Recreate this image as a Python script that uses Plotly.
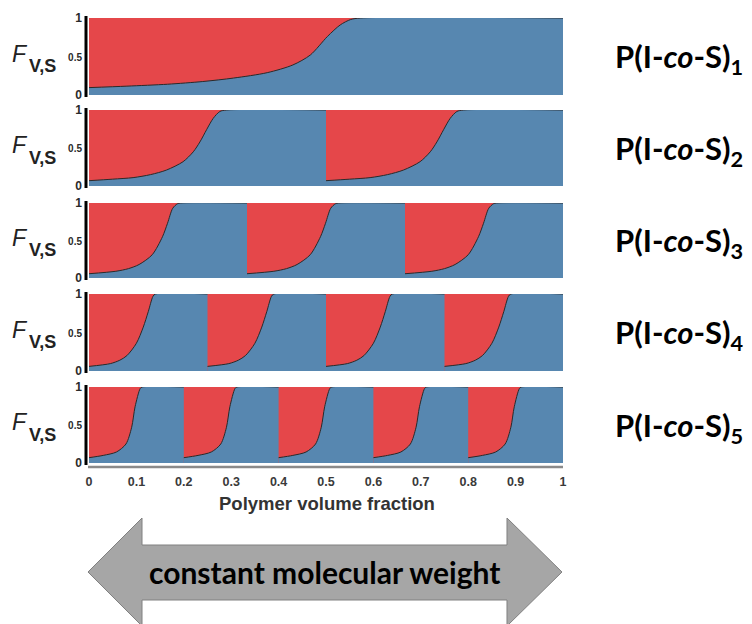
import plotly.graph_objects as go

W, H = 752, 624
RED = "#E5474A"
BLUE = "#5787B0"

block_counts = [1, 2, 3, 4, 5]
labels = ["1", "2", "3", "4", "5"]

# composition profile inside one block: fraction of block width -> F_V,S
frac_1 = [0, 0.08, 0.166, 0.24, 0.305, 0.376, 0.43, 0.467, 0.503, 0.53, 0.552, 0.573, 1.0]
F_1 = [0.096, 0.115, 0.14, 0.175, 0.22, 0.29, 0.39, 0.52, 0.76, 0.91, 0.98, 1.0, 1.0]
frac_2 = [0, 0.1, 0.186, 0.26, 0.327, 0.397, 0.44, 0.468, 0.496, 0.524, 0.552, 0.58, 1.0]
F_2 = [0.07, 0.09, 0.11, 0.15, 0.21, 0.32, 0.45, 0.58, 0.74, 0.89, 0.98, 1.0, 1.0]
frac_3 = [0, 0.17, 0.25, 0.317, 0.40, 0.465, 0.497, 0.53, 0.56, 0.58, 1.0]
F_3 = [0.057, 0.09, 0.125, 0.18, 0.31, 0.55, 0.73, 0.93, 0.99, 1.0, 1.0]
frac_4 = [0, 0.18, 0.26, 0.32, 0.40, 0.458, 0.5, 0.54, 0.56, 1.0]
F_4 = [0.06, 0.096, 0.14, 0.2, 0.36, 0.57, 0.77, 0.97, 1.0, 1.0]
frac_5 = [0, 0.15, 0.29, 0.39, 0.45, 0.486, 0.54, 0.56, 1.0]
F_5 = [0.07, 0.10, 0.145, 0.25, 0.47, 0.74, 0.98, 1.0, 1.0]

fracs = [frac_1, frac_2, frac_3, frac_4, frac_5]
Fs = [F_1, F_2, F_3, F_4, F_5]

x_ticks = [0, 0.1, 0.2, 0.3, 0.4, 0.5, 0.6, 0.7, 0.8, 0.9, 1]
x_ticktext = ["0", "0.1", "0.2", "0.3", "0.4", "0.5", "0.6", "0.7", "0.8", "0.9", "1"]
y_ticks = [0, 0.5, 1]
y_ticktext = ["0", "<span style='font-size:10px'>0.5</span>", "1"]

# panel pixel geometry (top, bottom)
panels = [(18, 95), (110, 186), (203, 278), (294, 371), (387, 463)]
XL, XR = 89, 563


def px(x):
    return x / W


def py(y):
    return 1 - y / H


fig = go.Figure()
layout = dict(
    width=W, height=H, autosize=False,
    margin=dict(l=0, r=0, t=0, b=0),
    paper_bgcolor="white", plot_bgcolor=RED,
    showlegend=False, template="none",
    font=dict(family="Liberation Sans, Arial", color="#333", size=12),
)
shapes = []
annotations = []

for i, n in enumerate(block_counts):
    k = i + 1
    xa = "x" if k == 1 else f"x{k}"
    ya = "y" if k == 1 else f"y{k}"
    for b in range(n):
        xs = [(b + f) / n for f in fracs[i]]
        fig.add_trace(go.Scatter(
            x=xs, y=Fs[i], mode="lines",
            line=dict(color="#2a2a2a", width=1, shape="spline", smoothing=0.8),
            fill="tozeroy", fillcolor=BLUE, hoverinfo="skip",
            xaxis=xa, yaxis=ya,
        ))
    top, bot = panels[i]
    xkey = "xaxis" if k == 1 else f"xaxis{k}"
    ykey = "yaxis" if k == 1 else f"yaxis{k}"
    layout[xkey] = dict(
        domain=[px(XL), px(XR)], range=[0, 1], anchor=ya,
        showgrid=False, zeroline=False, showline=False, ticks="",
        showticklabels=(k == 5), tickvals=x_ticks, ticktext=x_ticktext,
        tickfont=dict(size=12.5, color="#3a3a3a", weight="bold"),
        ticklabelstandoff=9,
    )
    layout[ykey] = dict(
        domain=[py(bot), py(top)], range=[0, 1], anchor=xa,
        showgrid=False, zeroline=False, showline=False, ticks="",
        tickvals=y_ticks, ticktext=y_ticktext,
        tickfont=dict(size=12, color="#2a2a2a", weight="bold"),
        ticklabelstandoff=6,
    )
    # black y-axis bar
    shapes.append(dict(type="line", xref="paper", yref="paper",
                       x0=px(86), x1=px(86), y0=py(bot + 2), y1=py(top - 2),
                       line=dict(color="black", width=3)))
    mid = (top + bot) / 2
    annotations.append(dict(text="<i>F</i>", xref="paper", yref="paper",
                            x=px(20), y=py(mid - 3), xanchor="center", yanchor="middle",
                            showarrow=False, font=dict(size=23, color="#222")))
    annotations.append(dict(text="V,S", xref="paper", yref="paper",
                            x=px(42.5), y=py(mid + 9.5), xanchor="center", yanchor="middle",
                            showarrow=False, font=dict(size=18, color="#222", weight="bold")))
    annotations.append(dict(text=f"P(I-<i>co</i>-S)<sub>{labels[i]}</sub>",
                            xref="paper", yref="paper",
                            x=px(613), y=py(mid + 2), xanchor="left", yanchor="middle",
                            showarrow=False,
                            font=dict(family="Lato", size=31, color="black", weight="bold")))

# bottom axis line
shapes.append(dict(type="line", xref="paper", yref="paper",
                   x0=px(88), x1=px(563), y0=py(467), y1=py(467),
                   line=dict(color="#8a8a8a", width=2.5)))

annotations.append(dict(text="Polymer volume fraction", xref="paper", yref="paper",
                        x=px(327), y=py(503), xanchor="center", yanchor="middle",
                        showarrow=False, font=dict(size=18.5, color="#333", weight="bold")))

# double-headed arrow
pts = [(88, 572), (142, 518), (142, 545), (507, 545), (507, 518), (562, 572),
       (507, 626), (507, 600), (142, 600), (142, 626)]
path = "M " + " L ".join(f"{px(x):.5f},{py(y):.5f}" for x, y in pts) + " Z"
shapes.append(dict(type="path", xref="paper", yref="paper", path=path,
                   fillcolor="#A6A6A6", line=dict(color="#808080", width=1)))
annotations.append(dict(text="constant molecular weight", xref="paper", yref="paper",
                        x=px(324), y=py(572), xanchor="center", yanchor="middle",
                        showarrow=False,
                        font=dict(family="Lato", size=30, color="black", weight="bold")))

layout["shapes"] = shapes
layout["annotations"] = annotations
fig.update_layout(**layout)
fig.write_html("out.html")
